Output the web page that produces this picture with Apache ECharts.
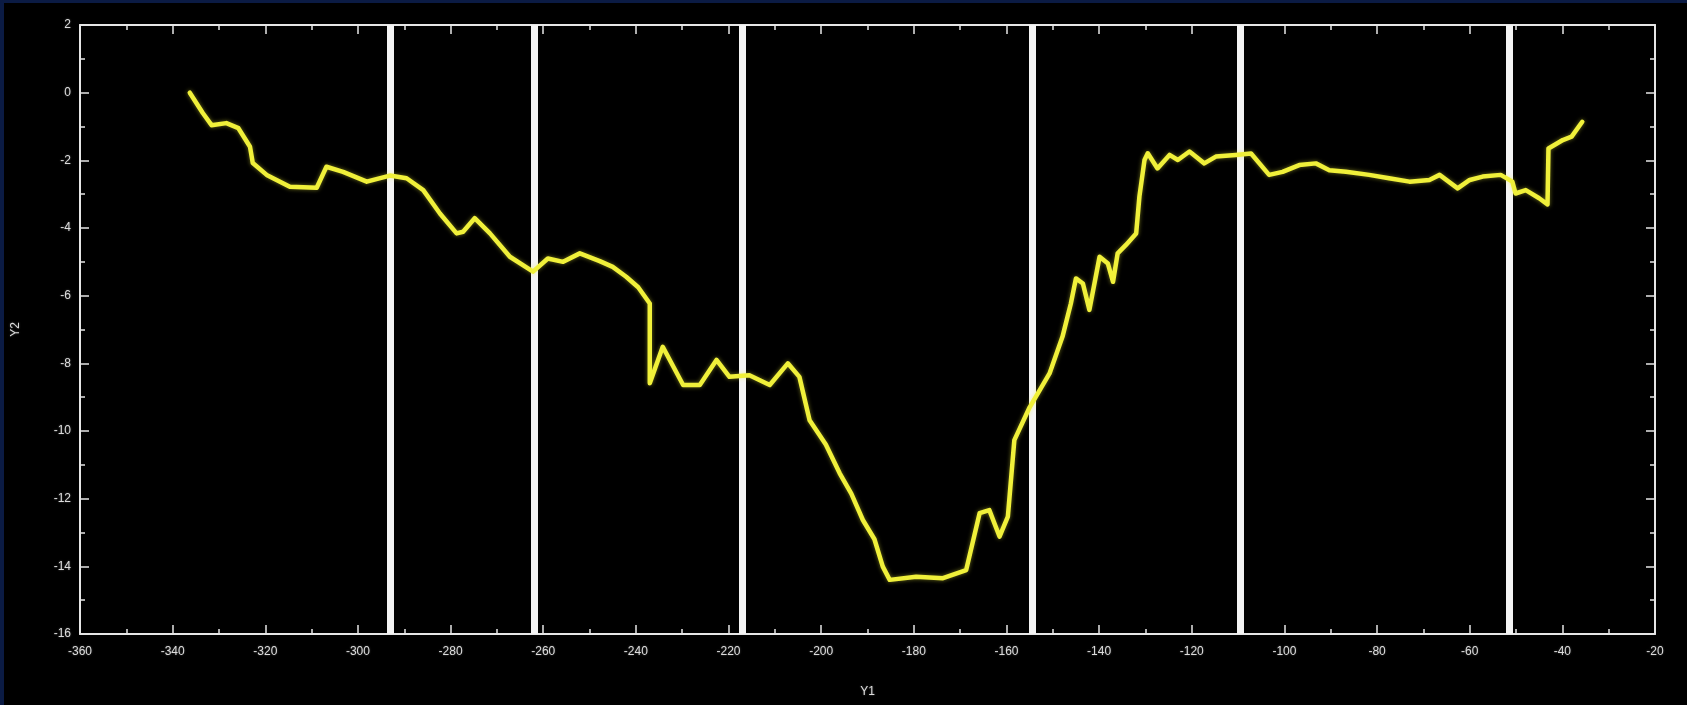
<!DOCTYPE html>
<html>
<head>
<meta charset="utf-8">
<title>Y2 vs Y1</title>
<script src="https://cdn.jsdelivr.net/npm/echarts@6/dist/echarts.min.js"></script>
<style>
  html, body { margin: 0; padding: 0; background: #0b1b44; }
  #chart { width: 1687px; height: 705px; }
</style>
</head>
<body>
<div id="chart"></div>
<script>
// Trace coordinates (Y1, Y2)
const trackX = [
  -336.3, -333.5, -331.6, -328.4, -325.8, -323.3, -322.7, -319.7, -314.7, -308.9,
  -306.8, -303.2, -298.1, -293.1, -289.5, -285.9, -282.3, -278.7, -277.3, -274.8,
  -271.5, -267.2, -262.2, -259.0, -255.7, -252.1, -247.8, -245.0, -242.1, -239.5,
  -237.0, -237.0, -234.2, -229.8, -226.2, -222.6, -219.8, -215.5, -211.1, -207.2,
  -204.7, -202.5, -199.0, -196.0, -193.5, -191.0, -188.5, -186.7, -185.2, -179.5,
  -173.7, -168.7, -165.8, -163.7, -161.5, -159.7, -158.3, -155.0, -150.7, -147.9,
  -146.1, -145.0, -143.5, -142.1, -139.9, -138.1, -137.0, -136.0, -134.2, -132.0,
  -131.3, -130.2, -129.5, -127.4, -124.8, -123.0, -120.5, -117.3, -114.8, -110.5,
  -107.2, -103.3, -100.4, -96.8, -93.2, -90.3, -86.7, -81.7, -77.4, -73.0,
  -68.7, -66.5, -62.6, -60.0, -57.2, -53.3, -50.8, -50.1, -47.9, -45.0,
  -43.2, -43.0, -39.9, -38.0, -35.7
];
const trackY = [
  0.0, -0.6, -0.96, -0.9, -1.05, -1.6, -2.08, -2.43, -2.78, -2.81,
  -2.19, -2.34, -2.63, -2.45, -2.53, -2.88, -3.57, -4.16, -4.11, -3.71,
  -4.16, -4.85, -5.29, -4.9, -5.0, -4.75, -4.98, -5.15, -5.44, -5.75,
  -6.23, -8.59, -7.51, -8.64, -8.64, -7.9, -8.4, -8.35, -8.64, -8.0,
  -8.4, -9.68, -10.4, -11.25, -11.85, -12.63, -13.2, -14.01, -14.4, -14.31,
  -14.35, -14.11, -12.43, -12.34, -13.12, -12.53, -10.27, -9.3, -8.3, -7.21,
  -6.23, -5.49, -5.64, -6.42, -4.85, -5.05, -5.59, -4.75, -4.5, -4.16,
  -3.07, -1.99, -1.79, -2.24, -1.84, -1.99, -1.74, -2.09, -1.89, -1.84,
  -1.8, -2.43, -2.34, -2.14, -2.09, -2.29, -2.34, -2.43, -2.53, -2.63,
  -2.58, -2.43, -2.83, -2.58, -2.48, -2.43, -2.63, -2.98, -2.88, -3.12,
  -3.3, -1.65, -1.4, -1.3, -0.86
];
// Vertical reference positions along Y1
const markerX = [-293, -262, -217, -154.5, -109.5, -51.5];

const xRange = { min: -360, max: -20, step: 20 };
const yRange = { min: -16, max: 2, step: 2 };

const points = trackX.map((x, i) => [x, trackY[i]]);

const axisColor = '#e6e6e6';
const labelStyle = {
  color: '#dcdcdc', fontSize: 12,
  fontFamily: 'Liberation Sans, Arial, sans-serif',
  textShadowColor: 'rgba(255,255,255,0.35)', textShadowBlur: 2
};

function frameAxis(extra) {
  return Object.assign({
    type: 'value',
    axisLine: { show: true, onZero: false, lineStyle: { color: axisColor, width: 2 } },
    axisTick: { show: true, inside: true, length: 9, lineStyle: { color: axisColor, width: 1.5 } },
    minorTick: { show: true, splitNumber: 2, length: 5, lineStyle: { color: axisColor, width: 1.5 } },
    splitLine: { show: false },
    minorSplitLine: { show: false }
  }, extra);
}

const chart = echarts.init(document.getElementById('chart'), null, { renderer: 'canvas' });

chart.setOption({
  backgroundColor: '#0b1b44',
  animation: false,
  graphic: [{
    type: 'rect',
    z: -10,
    silent: true,
    shape: { x: 4, y: 3, width: 1683, height: 702 },
    style: { fill: '#000000' }
  }],
  grid: { left: 80, right: 32, top: 25, bottom: 71, containLabel: false },
  xAxis: [
    frameAxis({
      position: 'bottom',
      min: xRange.min, max: xRange.max, interval: xRange.step,
      name: 'Y1', nameLocation: 'middle', nameGap: 52,
      nameTextStyle: labelStyle,
      axisLabel: Object.assign({ margin: 12 }, labelStyle)
    }),
    frameAxis({
      position: 'top',
      min: xRange.min, max: xRange.max, interval: xRange.step,
      axisLabel: { show: false }
    })
  ],
  yAxis: [
    frameAxis({
      position: 'left',
      min: yRange.min, max: yRange.max, interval: yRange.step,
      name: 'Y2', nameLocation: 'middle', nameGap: 58,
      nameTextStyle: labelStyle,
      axisLabel: Object.assign({ margin: 9 }, labelStyle)
    }),
    frameAxis({
      position: 'right',
      min: yRange.min, max: yRange.max, interval: yRange.step,
      axisLabel: { show: false }
    })
  ],
  series: [
    {
      type: 'line',
      xAxisIndex: 0,
      yAxisIndex: 0,
      data: [],
      silent: true,
      markLine: {
        silent: true,
        symbol: ['none', 'none'],
        label: { show: false },
        lineStyle: { color: '#f4f4f4', width: 7, type: 'solid' },
        emphasis: { disabled: true },
        data: markerX.map(x => ({ xAxis: x }))
      }
    },
    {
      type: 'line',
      xAxisIndex: 0,
      yAxisIndex: 0,
      data: points,
      showSymbol: false,
      smooth: false,
      silent: true,
      z: 5,
      lineStyle: {
        color: '#f0f03a',
        width: 4.5,
        join: 'round',
        cap: 'round',
        shadowColor: 'rgba(240,240,60,0.45)',
        shadowBlur: 4
      }
    }
  ]
});
</script>
</body>
</html>
